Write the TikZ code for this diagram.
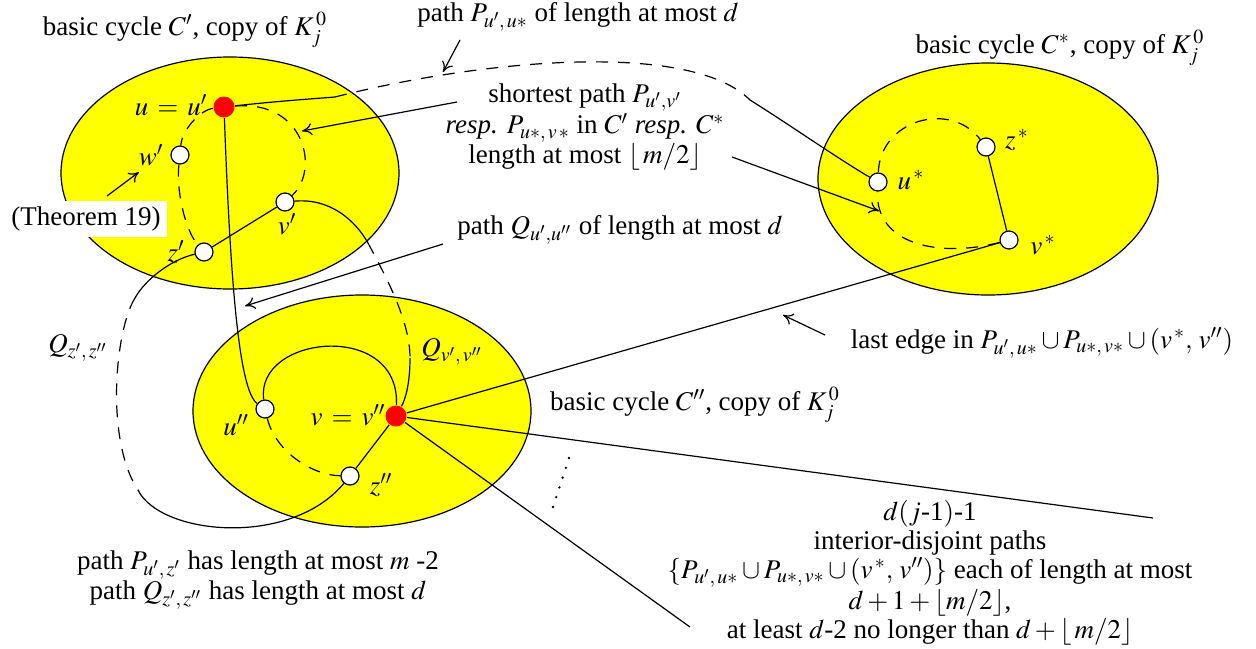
\documentclass[tikz,border=0pt]{standalone}
\usepackage{mathptmx}
\usepackage[no-math]{fontspec}
\setmainfont{Liberation Serif}
\usetikzlibrary{arrows.meta}

\definecolor{cycfill}{RGB}{255,255,0}
\definecolor{hubred}{RGB}{255,0,0}
\tikzset{every picture/.style={line width=0.6pt}}

\begin{document}
\begin{tikzpicture}[x=0.5pt,y=0.5pt,yscale=-1,
  font=\fontsize{13.5}{14.5}\selectfont,
  vtx/.style={circle,draw,fill=white,inner sep=0pt,minimum size=9pt},
  hub/.style={circle,fill=hubred,inner sep=0pt,minimum size=10.5pt},
  dsh/.style={dash pattern=on 6pt off 5pt},
  arr/.style={-{To[length=5pt,width=6pt]}},
  lbl/.style={inner sep=1pt}]
\useasboundingbox (0,0) rectangle (1256,648);

%Shape: Ellipse [C']
\draw [fill=cycfill] (230,173) ellipse (169 and 116);
%Shape: Ellipse [C*]
\draw [fill=cycfill] (988,179) ellipse (170 and 116);
%Shape: Ellipse [C'']
\draw [fill=cycfill] (362,411) ellipse (169 and 116);

%Vertices
\node [hub] (u1) at (224,107) {};
\node [vtx] (w1) at (180,155) {};
\node [vtx] (v1) at (285,202) {};
\node [vtx] (z1) at (204,252) {};
\node [vtx] (us) at (878,182) {};
\node [vtx] (zs) at (986,147) {};
\node [vtx] (vs) at (1009,240) {};
\node [vtx] (u2) at (265,409) {};
\node [hub] (v2) at (396,416) {};
\node [vtx] (z2) at (350,476) {};

%Vertex labels
\node [lbl,anchor=east] (lu1) at (210,105) {$u \,=\, u'$};
\node [lbl,anchor=east] (lw1) at (166,155) {$w'$};
\node [lbl] (lv1) at (287,224) {$v'$};
\node [lbl] (lz1) at (176,252) {$z'$};
\node [lbl] (lus) at (911,180) {$u^{\,*}$};
\node [lbl] (lzs) at (1017,140) {$z^{\,*}$};
\node [lbl] (lvs) at (1043,245) {$v^{\,*}$};
\node [lbl] (lu2) at (236,425) {$u''$};
\node [lbl] (lv2) at (348,415) {$v \,=\, v''$};
\node [lbl] (lz2) at (381,485) {$z''$};
\node [lbl] (lQv) at (452,352) {$Q_{v',\,v''}$};
\node [lbl] (lQz) at (78,348) {$Q_{z',\,z''}$};

%Cycle C'
\draw [dsh] (u1) .. controls (305,100) and (320,170) .. (v1);
\draw [dsh] (u1) .. controls (200,110) and (182,130) .. (w1);
\draw [dsh] (w1) .. controls (176,190) and (185,230) .. (z1);
\draw (z1) -- (v1);
%Cycle C*
\draw [dsh] (us) .. controls (880,120) and (950,100) .. (zs);
\draw (zs) -- (vs);
\draw [dsh] (vs) .. controls (940,258) and (875,245) .. (us);
%Cycle C''
\draw [dsh] (u2) .. controls (275,450) and (310,475) .. (z2);
\draw (z2) -- (v2);
\draw (u2) .. controls (255,335) and (400,320) .. (v2);

%Curve Lines [P_{u',u*}]
\coordinate (p1) at (335,97);
\coordinate (p2) at (750,100);
\draw (u1) .. controls (280,101) and (310,99) .. (p1);
\draw [dsh] (p1) .. controls (480,60) and (690,40) .. (p2);
\draw (p2) .. controls (790,125) and (840,160) .. (us);
%Curve Lines [Q_{u',u''}]
\draw (u1) .. controls (230,270) and (238,390) .. (u2);
%Curve Lines [Q_{v',v''}]
\coordinate (q1) at (368,243);
\coordinate (q2) at (410,358);
\draw (v1) .. controls (330,198) and (355,220) .. (q1);
\draw [dsh] (q1) .. controls (385,275) and (410,320) .. (q2);
\draw (q2) .. controls (410,385) and (405,400) .. (v2);
%Curve Lines [Q_{z',z''}]
\coordinate (q3) at (135,298);
\coordinate (q4) at (138,490);
\draw (z1) .. controls (170,260) and (145,280) .. (q3);
\draw [dsh] (q3) .. controls (115,330) and (105,440) .. (q4);
\draw (q4) .. controls (160,535) and (290,548) .. (z2);

%Straight Lines from v''
\coordinate (e1) at (1153,518);
\coordinate (e2) at (690,627);
\draw (v2) -- (vs);
\draw (v2) -- (e1);
\draw (v2) -- (e2);
\foreach \k in {0,...,5}
  \fill ({553+3.2*\k},{507-9.8*\k}) circle (1.3);

%Texts
\node (tC1) at (185,30) {basic cycle $C'$, copy of $K_j^{\,0}$};
\node (tCs) at (1060,48) {basic cycle $C^*$, copy of $K_j^{\,0}$};
\node (tC2) at (695,405) {basic cycle $C''$, copy of $K_j^{\,0}$};
\node (tP) at (578,17) {path $P_{u',\,u*}$ of length at most $d$};
\node [align=center,font=\fontsize{13.5}{13.5}\selectfont] (tSh) at (585,127) {shortest path $P_{u',v'}$\\ \textit{resp.} $P_{u*,\,v\,*}$ in $C'$ \textit{resp.} $C^*$\\ length at most $\lfloor\, m/2\rfloor$};
\node (tQ) at (620,230) {path $Q_{u',u''}$ of length at most $d$};
\node (tL) at (1042,343) {last edge in $P_{u',\,u*}\cup P_{u*,\,v*}\cup(v^{\,*},\,v'')$};
\node [fill=white,inner sep=3pt] (tTh) at (86,219) {(Theorem 19)};
\node [align=center,font=\fontsize{13.5}{12.5}\selectfont] (tB) at (258,580) {path $P_{u',\,z'}$ has length at most $m$ -2\\ path $Q_{z',\,z''}$ has length at most $d$};
\node [align=center,font=\fontsize{13.5}{14.4}\selectfont] (tR) at (930,573) {$d(j$-1$)$-1\\ interior-disjoint paths\\ $\{P_{u',\,u*}\cup P_{u*,\,v*}\cup(v^{\,*},\,v'')\}$ each of length at most\\ $d+1+\lfloor m/2\rfloor$,\\ at least $d$-2 no longer than $d+\lfloor\, m/2\rfloor$};

%Arrows
\coordinate (aP0) at (460,40);   \coordinate (aP1) at (443,72);
\coordinate (aS0) at (457,102);  \coordinate (aS1) at (302,131);
\coordinate (aT0) at (732,157);  \coordinate (aT1) at (879,211);
\coordinate (aQ0) at (443,244);  \coordinate (aQ1) at (245,306);
\coordinate (aL0) at (825,335);  \coordinate (aL1) at (783,315);
\coordinate (aW0) at (107,196);  \coordinate (aW1) at (139,172);
\draw [arr] (aP0) -- (aP1);
\draw [arr] (aS0) -- (aS1);
\draw [arr] (aT0) -- (aT1);
\draw [arr] (aQ0) -- (aQ1);
\draw [arr] (aL0) -- (aL1);
\draw [arr] (aW0) -- (aW1);

\end{tikzpicture}
\end{document}
